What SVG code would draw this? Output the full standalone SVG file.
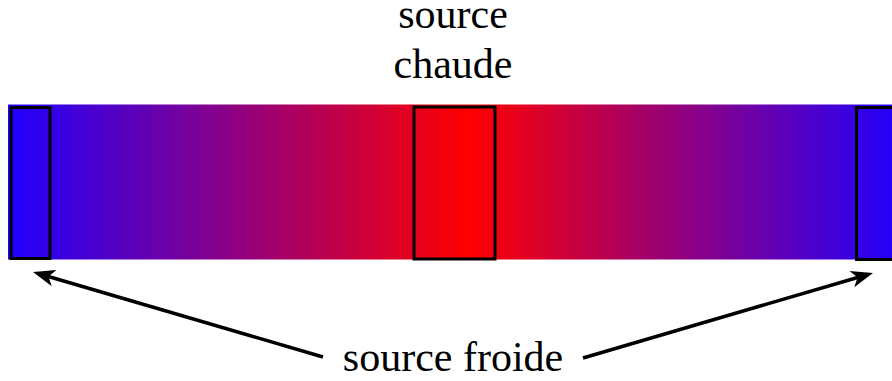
<svg xmlns="http://www.w3.org/2000/svg" width="892" height="381" viewBox="0 0 892 381">
<style>
text{font-family:"Times New Roman","Liberation Serif","DejaVu Serif",serif;font-size:42px;fill:#000;text-anchor:middle}
.src{fill:none;stroke:#000;stroke-width:3}
.arr{fill:none;stroke:#000;stroke-width:3.5}
</style>
<defs>
<linearGradient id="g" gradientUnits="userSpaceOnUse" x1="8" y1="0" x2="901" y2="0">
<stop offset="0" stop-color="#2000ff"/>
<stop offset="0.515" stop-color="#ff0000"/>
<stop offset="1" stop-color="#2000ff"/>
</linearGradient>
<marker id="ah" markerUnits="userSpaceOnUse" markerWidth="30" markerHeight="20" viewBox="-16 -10 26 20" refX="0" refY="0" orient="auto">
<path d="M8,0 L-14,-8.5 L-8,0 L-14,8.5 Z" fill="#000"/>
</marker>
</defs>
<g id="bar"><rect x="8" y="104.5" width="893" height="155" fill="url(#g)"/></g>
<g id="cold-left"><rect class="src" x="11" y="107.5" width="39" height="151"/></g>
<g id="hot"><rect class="src" x="414" y="107" width="81" height="152"/><text x="453" y="28">source</text><text x="453" y="78">chaude</text></g>
<g id="cold-right"><rect class="src" x="856.5" y="107.5" width="60" height="152"/></g>
<g id="cold-label"><text x="453" y="371">source froide</text></g>
<g id="connectors">
<line class="arr" x1="323" y1="357" x2="40.7" y2="274.2" marker-end="url(#ah)"/>
<line class="arr" x1="583" y1="358" x2="865.3" y2="275.2" marker-end="url(#ah)"/>
</g>
</svg>
